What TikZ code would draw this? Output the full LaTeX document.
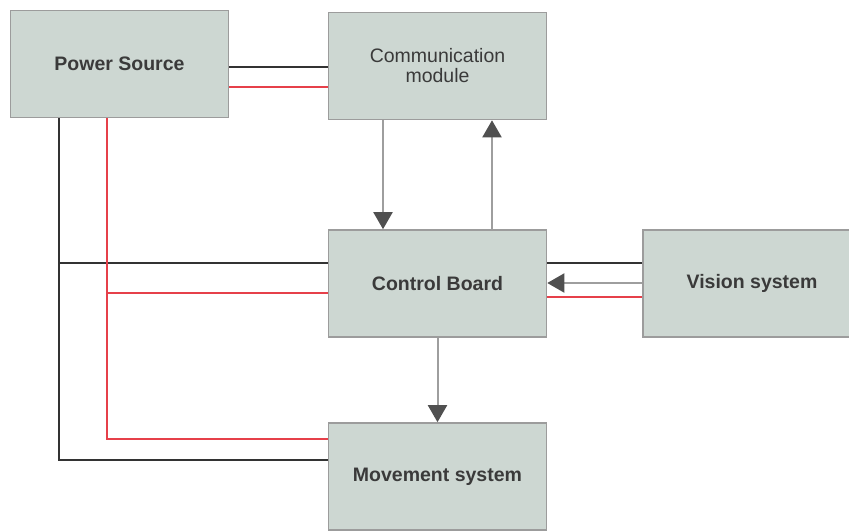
\documentclass[tikz,border=0pt]{standalone}
\usepackage{fontspec}
\setmainfont{Liberation Sans}
\usetikzlibrary{arrows.meta}
\definecolor{boxfill}{HTML}{CDD7D2}
\definecolor{boxline}{HTML}{9C9C9C}
\definecolor{txt}{HTML}{3A3A3A}
\definecolor{wblack}{HTML}{333333}
\definecolor{wred}{HTML}{E6404A}
\definecolor{wgray}{HTML}{9E9E9E}
\definecolor{headgray}{HTML}{505050}
\tikzset{
  blk/.style={draw=boxline, line width=1.6pt, fill=boxfill, minimum width=218pt,
    minimum height=107pt, inner sep=0pt, text=txt, align=center,
    font=\fontsize{19.5}{20}\selectfont\bfseries},
  blkreg/.style={blk, font=\fontsize{19.5}{20}\selectfont},
  wireb/.style={draw=wblack, line width=2pt},
  wirer/.style={draw=wred, line width=2pt},
  sig/.style={draw=wgray, line width=2pt,
    -{Triangle[width=19pt,length=17pt,color=headgray]}},
}
\begin{document}
\begin{tikzpicture}[x=1pt,y=-1pt]
\clip (0,0) rectangle (849,531);
\fill[white] (0,0) rectangle (849,531);
\node[blk]    (ps) at (119.5,64)  {Power Source};
\node[blkreg] (cm) at (437.5,66)  {Communication\\module};
\node[blk]    (cb) at (437.5,283.5) {Control Board};
\node[blk]    (vs) at (752,283.5) {Vision system};
\node[blk]    (ms) at (437.5,476.5) {Movement system};
% power to communication
\draw[wireb] (ps.east |- 0,67) -- (cm.west |- 0,67);
\draw[wirer] (ps.east |- 0,87) -- (cm.west |- 0,87);
% power trunks
\coordinate (jb) at (59,263);
\coordinate (jr) at (107,293);
\draw[wireb] (ps.south -| 59,0) |- (ms.west |- 0,460);
\draw[wireb] (jb) -- (cb.west |- jb);
\draw[wirer] (ps.south -| 107,0) |- (ms.west |- 0,439);
\draw[wirer] (jr) -- (cb.west |- jr);
% vision to control
\draw[wireb] (vs.west |- 0,263) -- (cb.east |- 0,263);
\draw[wirer] (vs.west |- 0,297) -- (cb.east |- 0,297);
\draw[sig] (vs.west |- 0,283) -- (cb.east |- 0,283);
% signals
\draw[sig] (cm.south -| 383,0) -- (cb.north -| 383,0);
\draw[sig] (cb.north -| 492,0) -- (cm.south -| 492,0);
\draw[sig] (cb.south) -- (ms.north);
\end{tikzpicture}
\end{document}
